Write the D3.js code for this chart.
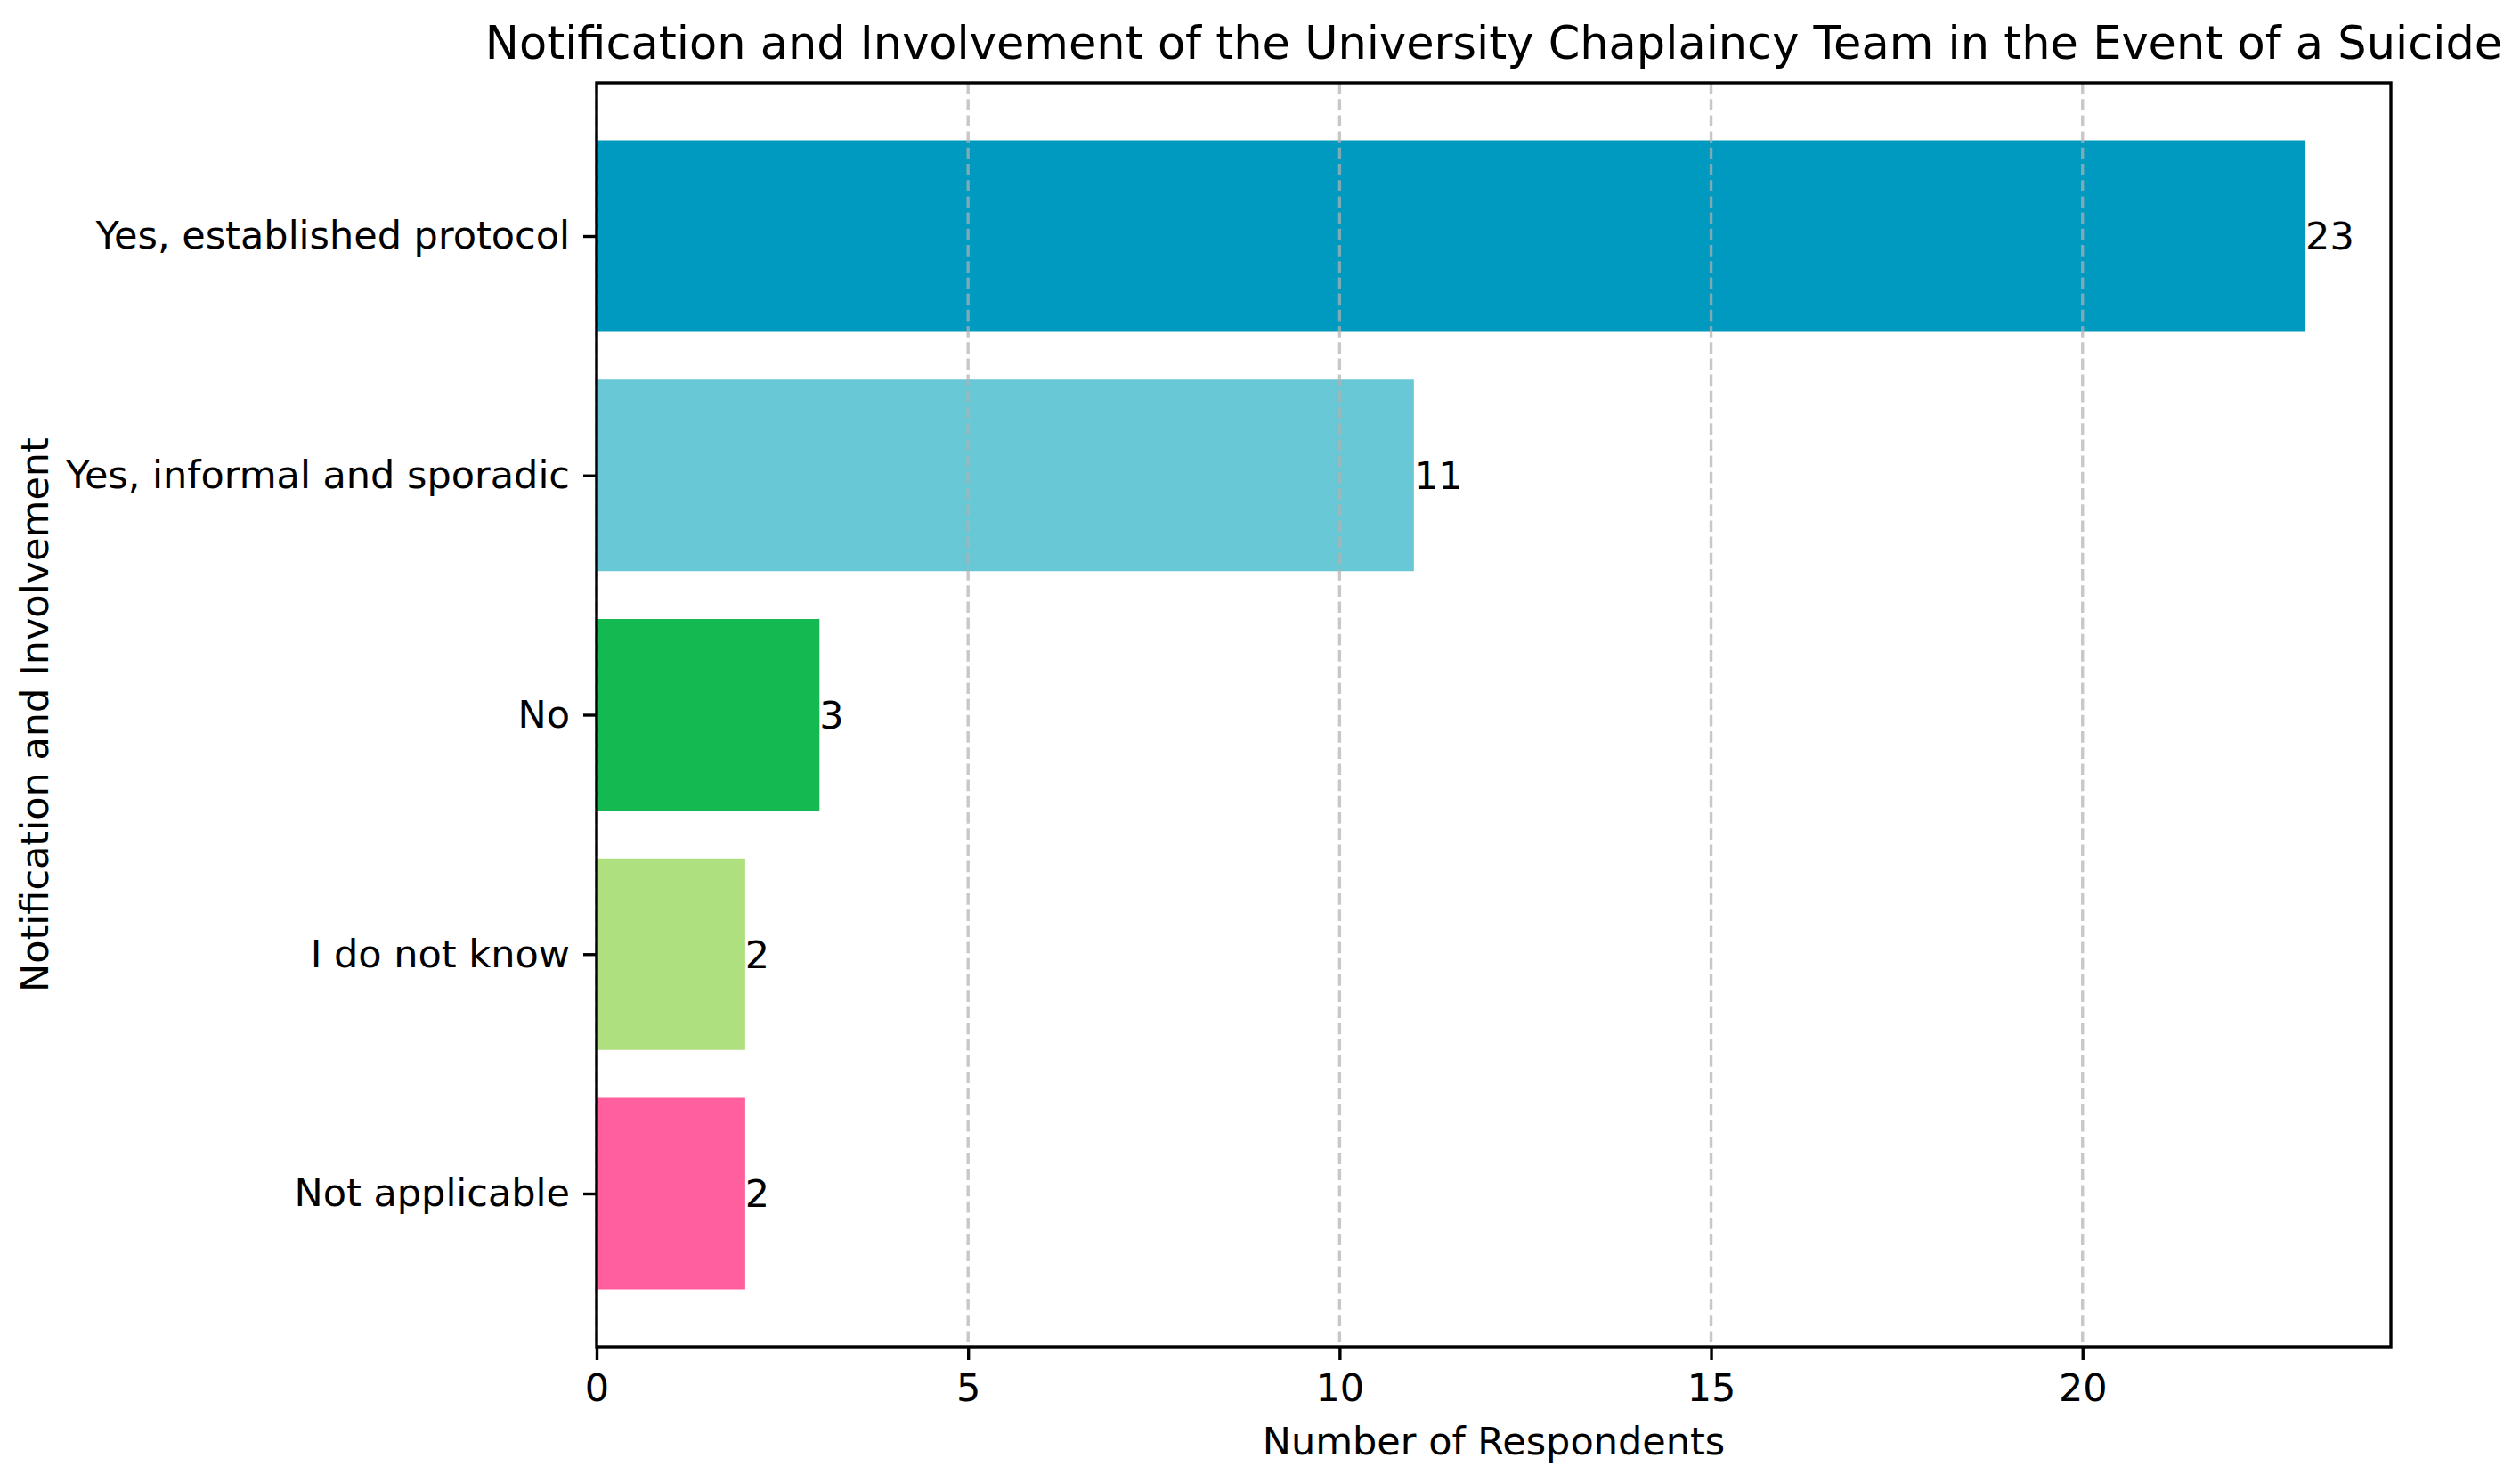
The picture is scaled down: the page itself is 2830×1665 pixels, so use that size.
<!DOCTYPE html>
<html>
  <head>
    <title>Chaplaincy notification chart</title>
    <script src="https://cdn.jsdelivr.net/npm/d3@7"></script>
    <style>
      body { margin: 0; background: #fff; }
      svg text { font-family: "DejaVu Sans", sans-serif; fill: #000; }
    </style>
  </head>
  <body>
    <svg id="chart" width="2830" height="1665"></svg>
    <script>
      // data
      var categories = ["Yes, established protocol", "Yes, informal and sporadic", "No", "I do not know", "Not applicable"];
      var counts = [23, 11, 3, 2, 2];
      var barColors = ["#0099c0", "#69c8d6", "#14ba51", "#aee07f", "#ff5f9d"];
      var xTicks = [0, 5, 10, 15, 20];

      drawChart();

      function drawChart() {
        var plotLeft = 670, plotRight = 2685, plotTop = 93, plotBottom = 1512;
        var fs = 43;   // 10pt at this resolution
        var svg = d3.select("#chart");

        var x = d3.scaleLinear()
          .domain([0, d3.max(counts) * 1.05])
          .range([plotLeft, plotRight]);

        // matplotlib style: bars 0.8 tall, 5% margin on the category axis
        var y = d3.scaleLinear()
          .domain([-0.64, categories.length - 1 + 0.64])
          .range([plotTop, plotBottom]);

        // bars
        svg.append("g")
          .selectAll("rect")
          .data(counts)
          .join("rect")
          .attr("x", x(0))
          .attr("y", function(d, i) { return y(i - 0.4); })
          .attr("width", function(d) { return x(d) - x(0); })
          .attr("height", function(d, i) { return y(i + 0.4) - y(i - 0.4); })
          .attr("fill", function(d, i) { return barColors[i]; });

        // grid sits on top of bars, like in the original
        svg.append("g")
          .selectAll("line")
          .data(xTicks)
          .join("line")
          .attr("x1", function(d) { return x(d); })
          .attr("x2", function(d) { return x(d); })
          .attr("y1", plotTop)
          .attr("y2", plotBottom)
          .style("stroke", "#b0b0b0")
          .style("stroke-opacity", 0.7)
          .style("stroke-width", 3.4)
          .style("stroke-dasharray", "12.7,5.5");

        // value labels
        svg.append("g")
          .selectAll("text")
          .data(counts)
          .join("text")
          .attr("x", function(d) { return x(d); })
          .attr("y", function(d, i) { return y(i); })
          .attr("dy", "0.36em")
          .style("font-size", fs + "px")
          .text(function(d) { return d; });

        // axes
        var xAxis = d3.axisBottom(x).tickValues(xTicks).tickSize(15).tickPadding(15);
        var gx = svg.append("g")
          .attr("transform", "translate(0," + plotBottom + ")")
          .call(xAxis);
        gx.select(".domain").remove();
        gx.selectAll("line").style("stroke", "#000").style("stroke-width", 3.4);
        gx.selectAll("text").style("font-size", fs + "px").style("font-family", "DejaVu Sans");

        var yAxis = d3.axisLeft(y)
          .tickValues(d3.range(categories.length))
          .tickFormat(function(i) { return categories[i]; })
          .tickSize(15).tickPadding(15);
        var gy = svg.append("g")
          .attr("transform", "translate(" + plotLeft + ",0)")
          .call(yAxis);
        gy.select(".domain").remove();
        gy.selectAll("line").style("stroke", "#000").style("stroke-width", 3.4);
        gy.selectAll("text").style("font-size", fs + "px").style("font-family", "DejaVu Sans");

        // frame
        svg.append("rect")
          .attr("x", plotLeft)
          .attr("y", plotTop)
          .attr("width", plotRight - plotLeft)
          .attr("height", plotBottom - plotTop)
          .attr("fill", "none")
          .style("stroke", "#000")
          .style("stroke-width", 3.4);

        // titles
        svg.append("text")
          .attr("x", (plotLeft + plotRight) / 2)
          .attr("y", 66)
          .attr("text-anchor", "middle")
          .style("font-size", "51px")
          .text("Notification and Involvement of the University Chaplaincy Team in the Event of a Suicide");

        svg.append("text")
          .attr("x", (plotLeft + plotRight) / 2)
          .attr("y", 1633)
          .attr("text-anchor", "middle")
          .style("font-size", fs + "px")
          .text("Number of Respondents");

        svg.append("text")
          .attr("transform", "translate(54," + (plotTop + plotBottom) / 2 + ") rotate(-90)")
          .attr("text-anchor", "middle")
          .style("font-size", fs + "px")
          .text("Notification and Involvement");
      }
    </script>
  </body>
</html>
